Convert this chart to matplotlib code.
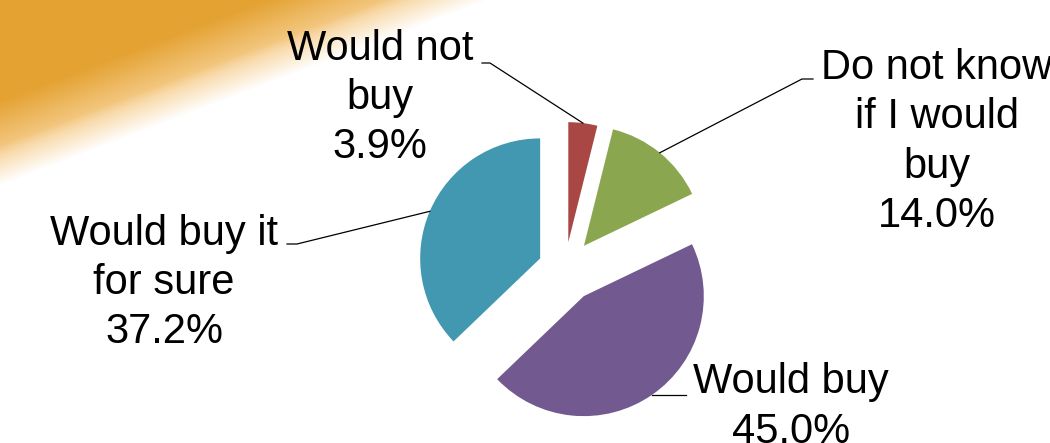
import numpy as np
import matplotlib.pyplot as plt

plt.rcParams['font.family'] = ['Liberation Sans', 'DejaVu Sans']

W, H = 1050, 443

labels = ['Would not\nbuy', 'Do not know\nif I would\nbuy', 'Would buy', 'Would buy it\nfor sure']
shares = [3.9, 14.0, 45.0, 37.2]
colors = ['#A84744', '#8AA64E', '#72598F', '#4298B0']
# pie offsets in pixels (matplotlib does not scale explode by radius)
explode = [27, 30, 33, 27]

# layout in image pixels (y measured from the top)
label_pos = [(380, 98), (937, 142), (791, 407), (164, 283)]
elbow_pos = [(490, 63), (802, 79), None, (297, 244)]
end_pos = [(482, 63), (813, 79), (686, None), (287, 244)]

fig = plt.figure(figsize=(W / 100, H / 100), dpi=100)
ax = fig.add_axes([0, 0, 1, 1])

# orange swoosh in the top-left corner
yy, xx = np.mgrid[0:H, 0:W]
dist = (160 - 0.38 * xx) - yy
t = np.clip((dist - 5) / 55, 0, 1)[..., None]
deep = np.array([228, 162, 50]) / 255
light = np.array([246, 206, 142]) / 255
rgb = light * (1 - t) + deep * t
alpha = np.clip((dist + 25) / 40, 0, 1)[..., None]
bg = np.concatenate([rgb, alpha], axis=2)
ax.imshow(bg, extent=[0, W, 0, H], origin='upper', zorder=0, interpolation='bilinear')

wedges, _ = ax.pie(shares, colors=colors, explode=explode, startangle=90,
                   counterclock=False, center=(565, H - 269), radius=120,
                   wedgeprops=dict(linewidth=0), frame=True)
for w in wedges:
    w.set_zorder(2)

for w, lab, v, lp, ep, xp in zip(wedges, labels, shares, label_pos, elbow_pos, end_pos):
    mid = np.deg2rad((w.theta1 + w.theta2) / 2)
    ax_x = w.center[0] + w.r * np.cos(mid)
    ax_y = w.center[1] + w.r * np.sin(mid)
    if ep is None:
        xs = [ax_x, xp[0]]
        ys = [ax_y, ax_y]
    else:
        xs = [ax_x, ep[0], xp[0]]
        ys = [ax_y, H - ep[1], H - xp[1]]
    ax.plot(xs, ys, color='black', lw=0.9, zorder=3)
    ax.text(lp[0], H - lp[1], f'{lab}\n{v:.1f}%', ha='center', va='center',
            fontsize=30, linespacing=1.3, multialignment='center', zorder=4)

ax.set_xlim(0, W)
ax.set_ylim(0, H)
ax.set_aspect('auto')
ax.axis('off')

fig.savefig('out.png', dpi=100, facecolor='white')
